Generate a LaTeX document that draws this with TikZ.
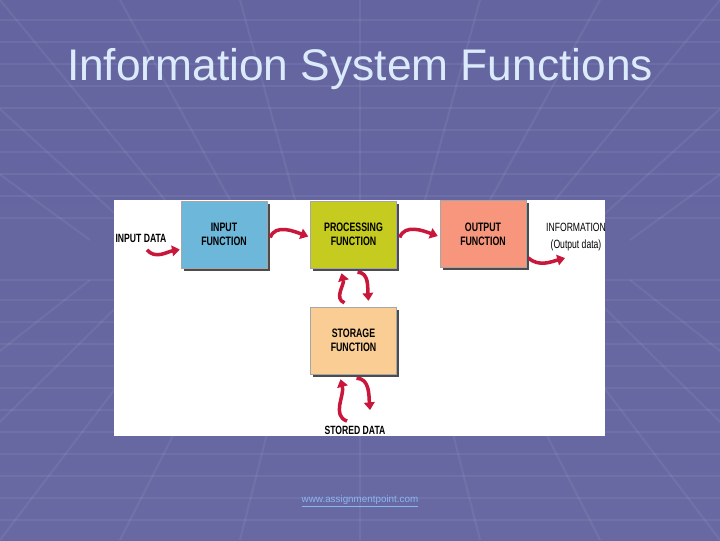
\documentclass[tikz,border=0pt]{standalone}
\usepackage{fontspec}
\setmainfont{Liberation Sans}
\newfontfamily\condfont[FakeStretch=0.72]{Liberation Sans}
\usetikzlibrary{arrows.meta,positioning,calc,shadows}
\definecolor{sbgtop}{HTML}{6465A0}
\definecolor{sbgmid}{HTML}{4E4F84}
\definecolor{sbgbot}{HTML}{6869A2}
\definecolor{stitle}{HTML}{DCEBFB}
\definecolor{slink}{HTML}{8AB6F2}
\definecolor{sred}{HTML}{C8173A}
\definecolor{sblue}{HTML}{6CB7DA}
\definecolor{sgreen}{HTML}{C5CB1F}
\definecolor{ssalmon}{HTML}{F7967C}
\definecolor{ssand}{HTML}{F9CD93}

\begin{document}
\begin{tikzpicture}[x=0.025cm,y=0.025cm,
  fn/.style={draw=black!35,line width=0.3pt,minimum width=2.15cm,minimum height=1.675cm,
             align=center,inner sep=1pt,font=\condfont\bfseries\fontsize{8.7}{9.7}\selectfont,
             drop shadow={shadow xshift=2pt,shadow yshift=-2pt,fill=black!70,opacity=1}},
  tag/.style={font=\condfont\bfseries\fontsize{8.5}{9.5}\selectfont,inner sep=1pt},
  grid/.style={draw=white,opacity=0.06,line width=1.5pt},
  flow/.style={draw=sred,line width=2.5pt,-{Triangle[length=5.5pt,width=7.5pt]}}]

  \useasboundingbox (0,0) rectangle (720,540);
  \shade[top color=sbgtop,middle color=sbgmid,bottom color=sbgbot] (0,0) rectangle (720,540);
  % background floor / ceiling grid
  \foreach \y in {20,42,64,86,108,130,152,174,196,218,240,260,322,344,366,388,410,432,454,476,498,520}
    \draw[grid] (0,\y) -- (720,\y);
  \foreach \x in {-240,-120,0,120,240,360,480,600,720,840,960}
    \draw[grid] (\x,540) -- ({360+(\x-360)*0.45},300) (\x,0) -- ({360+(\x-360)*0.45},260);

  \node[font=\fontsize{31.5}{35}\selectfont,text=stitle] (ttl) at (360,471)
        {Information System Functions};

  \fill[white] (114,104) rectangle (605,340);

  \node[fn,fill=sblue]   (inp)  at (224,305.5) {INPUT\\FUNCTION};
  \node[fn,fill=sgreen]  (proc) at (353.5,305.5) {PROCESSING\\FUNCTION};
  \node[fn,fill=ssalmon] (outp) at (483,306) {OUTPUT\\FUNCTION};
  \node[fn,fill=ssand]   (stor) at (353.5,199.5) {STORAGE\\FUNCTION};

  \node[tag] (indata) at (141,302) {INPUT DATA};
  \node[tag] (stdata) at (355,110) {STORED DATA};
  \begin{scope}
    \clip (114,104) rectangle (605,340);
    \node[tag,font=\condfont\fontsize{8.5}{12}\selectfont,align=center] (info) at (576,302.5)
          {INFORMATION\\(Output data)};
  \end{scope}

  \draw[flow] ($(indata.south)+(6,-6)$) to[out=-50,in=190] ($(inp.west)+(-1,-15)$);
  \draw[flow] ($(inp.east)+(3,-3)$) to[out=70,in=160] ($(proc.west)+(-2,-2)$);
  \draw[flow] ($(proc.east)+(3,-3)$) to[out=70,in=160] ($(outp.west)+(-2,-2)$);
  \draw[flow] ($(outp.east)+(2,-24)$) to[out=-40,in=195] ($(info.south)+(-11,-5)$);

  \draw[flow] ($(stor.north)+(-9,4)$) to[out=160,in=-75] ($(proc.south)+(-12,-5)$);
  \draw[flow] ($(proc.south)+(4,-4)$) to[out=0,in=95] ($(stor.north)+(15,6)$);
  \draw[flow] ($(stdata.north)+(-8,3)$) to[out=160,in=-75] ($(stor.south)+(-13,-5)$);
  \draw[flow] ($(stor.south)+(3,-4)$) to[out=0,in=95] ($(stdata.north)+(15,14)$);

  \node[font=\fontsize{7}{8}\selectfont,text=slink] (link) at (360,39)
        {\underline{www.assignmentpoint.com}};
\end{tikzpicture}
\end{document}
